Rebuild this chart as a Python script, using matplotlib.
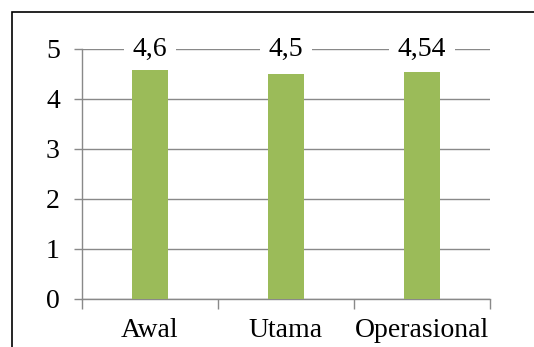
import matplotlib
matplotlib.use("Agg")
import matplotlib.pyplot as plt
from matplotlib.patches import Rectangle
import numpy as np

# data
kategori = ["Awal", "Utama", "Operasional"]
nilai = [4.6, 4.5, 4.54]
label_nilai = ["4,6", "4,5", "4,54"]
yticks = [0, 1, 2, 3, 4, 5]

plt.rcParams['font.family'] = ['Liberation Serif', 'DejaVu Serif']
W, H = 534, 347
fig = plt.figure(figsize=(W / 100, H / 100), dpi=100)
ax = fig.add_axes([82 / W, 1 - 299 / H, 408 / W, 250.5 / H])

abu = "#898989"
x = np.arange(len(kategori))
ax.bar(x, nilai, width=0.26, color="#9BBB59", zorder=3)

ax.set_xlim(-0.5, len(kategori) - 0.5)
ax.set_ylim(0, 5)
ax.set_yticks(yticks)
ax.set_yticklabels([str(v) for v in yticks], fontsize=20)
ax.yaxis.grid(True, color=abu, linewidth=1.0, zorder=1)

# x: labels in the middle, tick marks on the category borders
ax.set_xticks(x)
ax.set_xticklabels(kategori, fontsize=20)
ax.set_xticks(np.arange(len(kategori) + 1) - 0.5, minor=True)
ax.tick_params(axis='x', which='major', length=0, pad=14)
ax.tick_params(axis='x', which='minor', length=7, width=1.0, color=abu, direction='out')
ax.tick_params(axis='y', length=6, width=1.0, color=abu, direction='out', pad=10)

for s in ["top", "right"]:
    ax.spines[s].set_visible(False)
for s in ["left", "bottom"]:
    ax.spines[s].set_color(abu)
    ax.spines[s].set_linewidth(1.0)

# data labels sit on the top gridline with a white box
for xi, lab in zip(x, label_nilai):
    ax.annotate(lab, (xi, 5), xytext=(0, -5), textcoords="offset points",
                ha="center", va="baseline", fontsize=20, zorder=5,
                annotation_clip=False,
                bbox=dict(boxstyle="square,pad=0.3", fc="white", ec="none"))

# outer chart border (cut off at right and bottom)
fig.patches.append(Rectangle((11.8 / W, -0.1), 1.0, 1 - 11.8 / H + 0.1,
                             transform=fig.transFigure, fill=False,
                             edgecolor="black", linewidth=1.2))

fig.savefig("out.png", dpi=100)
